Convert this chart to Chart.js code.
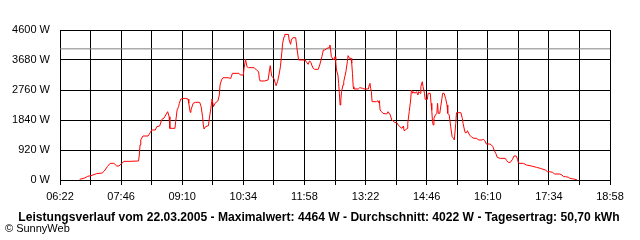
<!DOCTYPE html>
<html>
<head>
<meta charset="utf-8">
<script src="https://cdn.jsdelivr.net/npm/chart.js@4"></script>
<style>
    body { margin: 0; background: #fff; }
    #wrap { position: relative; width: 640px; height: 240px; font-family: "Liberation Sans", Arial, sans-serif; }
    #footTitle { position: absolute; left: 0; top: 210px; width: 638px; text-align: center; font-size: 12.1px; font-weight: bold; line-height: 14px; color: #000; white-space: nowrap; }
    #footCredit { position: absolute; left: 5px; top: 222px; font-size: 11px; line-height: 13px; color: #000; white-space: nowrap; }
</style>
</head>
<body>
<div id="wrap">
    <canvas id="powerChart" width="640" height="240"></canvas>
    <div id="footTitle">Leistungsverlauf vom 22.03.2005 - Maximalwert: 4464 W - Durchschnitt: 4022 W - Tagesertrag: 50,70 kWh</div>
    <div id="footCredit">© SunnyWeb</div>
</div>
<script>
// time of day in minutes since midnight, power in W
var timeMinutes = [409, 416, 420, 426, 432, 440, 443, 447, 451, 456, 460, 463, 467, 470, 477, 490, 491, 492, 493, 496,
    503, 506, 508, 513, 515, 519, 522, 525, 530, 532, 533, 540, 541, 543, 545, 546, 548, 554, 558, 559,
    561, 562, 565, 568, 574, 576, 578, 579, 580, 582, 586, 587, 590, 591, 593, 595, 599, 601, 602, 604,
    606, 613, 616, 617, 619, 628, 630, 634, 635, 637, 639, 641, 649, 652, 655, 656, 657, 663, 668, 670,
    671, 673, 676, 678, 679, 681, 683, 685, 687, 688, 690, 691, 696, 697, 699, 700, 702, 706, 708, 710,
    719, 721, 723, 725, 727, 728, 730, 732, 737, 739, 742, 744, 746, 749, 752, 753, 754, 755, 758, 760,
    761, 762, 764, 765, 766, 767, 768, 769, 771, 772, 775, 777, 778, 780, 782, 783, 784, 785, 786, 792,
    794, 798, 800, 806, 807, 808, 809, 810, 811, 817, 819, 820, 821, 822, 824, 826, 831, 833, 836, 838,
    840, 842, 845, 847, 849, 852, 854, 855, 857, 859, 860, 862, 864, 865, 867, 868, 870, 872, 874, 875,
    877, 878, 880, 881, 883, 884, 887, 888, 891, 892, 893, 894, 895, 896, 898, 900, 901, 902, 904, 907,
    908, 910, 912, 914, 915, 917, 919, 921, 923, 924, 926, 927, 933, 935, 936, 938, 939, 941, 942, 945,
    948, 951, 955, 957, 962, 964, 966, 968, 973, 975, 977, 979, 981, 983, 987, 994, 996, 998, 1001, 1004,
    1006, 1009, 1011, 1012, 1013, 1019, 1023, 1030, 1037, 1042, 1049, 1052, 1055, 1059, 1062, 1069, 1072, 1074, 1077, 1081,
    1083, 1088, 1093];
var powerW = [20, 61, 112, 143, 194, 215, 276, 409, 511, 511, 429, 429, 511, 572, 572, 583, 767, 1073, 1227, 1349,
    1349, 1451, 1533, 1533, 1635, 1656, 1860, 1901, 2095, 1942, 1585, 1585, 1789, 2150, 2249, 2351, 2484, 2505, 2484, 2351,
    2075, 2147, 2351, 2382, 2382, 2249, 1942, 1687, 1564, 1635, 1666, 1840, 2300, 2484, 2249, 2351, 2423, 2607, 2913, 3067,
    3137, 3137, 3118, 3137, 3271, 3271, 3220, 3220, 3425, 3701, 3475, 3445, 3445, 3373, 3322, 3118, 3036, 3036, 3067, 3373,
    3505, 3180, 3118, 2965, 2893, 3015, 3220, 3475, 3935, 4191, 4395, 4464, 4464, 4293, 4161, 4293, 4364, 4364, 3987, 3680,
    3680, 3608, 3547, 3650, 3608, 3527, 3425, 3394, 3394, 3527, 3782, 3987, 3987, 4038, 4059, 4140, 3987, 3782, 3680, 3782,
    3650, 3373, 3220, 2965, 2658, 2300, 2453, 2709, 2913, 3015, 3322, 3629, 3813, 3731, 3731, 3578, 3271, 2862, 2791, 2791,
    2831, 2811, 2791, 2791, 2913, 2965, 2811, 2709, 2402, 2402, 2433, 2371, 2433, 2147, 2095, 2044, 2024, 2095, 1993, 1840,
    1809, 1769, 1758, 1687, 1635, 1585, 1656, 1512, 1533, 1585, 1738, 2095, 2453, 2760, 2658, 2709, 2658, 2709, 2607, 2709,
    2658, 2862, 3015, 2862, 2658, 2474, 2474, 2658, 2658, 2351, 2147, 1789, 1687, 1891, 1993, 2044, 2351, 2044, 2044, 2505,
    2658, 2658, 2505, 2300, 2044, 1993, 1635, 1329, 1278, 1227, 1738, 2065, 2065, 1891, 1738, 1533, 1451, 1451, 1512, 1380,
    1309, 1278, 1278, 1227, 1227, 1247, 1206, 1104, 1104, 1073, 1022, 899, 818, 695, 664, 664, 593, 542, 542, 634,
    736, 736, 634, 532, 511, 511, 460, 429, 388, 358, 307, 255, 255, 235, 184, 184, 153, 102, 102, 82,
    51, 31, 0];
var averageW = 4022;
var startMinute = 382;   // 06:22
var endMinute = 1138;    // 18:58
var gridStepMinutes = 42;
var labelStepMinutes = 84;
var yMax = 4600;
var yStep = 920;

var powerPoints = [];
for (var i = 0; i < timeMinutes.length; i++) {
    powerPoints.push({ x: timeMinutes[i], y: powerW[i] });
}

function minutesToClock(m) {
    var h = Math.floor(m / 60);
    var mm = m % 60;
    return (h < 10 ? '0' : '') + h + ':' + (mm < 10 ? '0' : '') + mm;
}

var tickFont = { family: '"Liberation Sans", Arial, sans-serif', size: 11 };

var powerChart = new Chart("powerChart", {
    type: "line",
    data: {
        datasets: [{
            label: "Leistung",
            data: powerPoints,
            borderColor: "#ff0000",
            borderWidth: 1,
            pointRadius: 0,
            tension: 0,
            fill: false
        },
        {
            label: "Durchschnitt",
            data: [{ x: startMinute, y: averageW }, { x: endMinute, y: averageW }],
            borderColor: "#808080",
            borderWidth: 1,
            pointRadius: 0,
            fill: false
        }]
    },
    options: {
        responsive: false,
        animation: false,
        devicePixelRatio: 1,
        layout: {
            padding: { left: 0, right: 30, top: 30, bottom: 40 }
        },
        plugins: {
            legend: { display: false },
            tooltip: { enabled: false }
        },
        scales: {
            x: {
                type: "linear",
                min: startMinute,
                max: endMinute,
                afterFit: function (axis) { axis.height = 20; },
                grid: {
                    color: "#000",
                    lineWidth: 1,
                    tickLength: 5
                },
                border: { color: "#000" },
                ticks: {
                    stepSize: gridStepMinutes,
                    autoSkip: false,
                    maxRotation: 0,
                    padding: 5,
                    color: "#000",
                    font: tickFont,
                    callback: function (value) {
                        if ((value - startMinute) % labelStepMinutes != 0) {
                            return '';
                        }
                        return minutesToClock(value);
                    }
                }
            },
            y: {
                min: 0,
                max: yMax,
                afterFit: function (axis) { axis.width = 60; },
                grid: {
                    color: "#000",
                    lineWidth: 1,
                    drawTicks: false
                },
                border: { color: "#000" },
                ticks: {
                    stepSize: yStep,
                    padding: 10,
                    color: "#000",
                    font: tickFont,
                    callback: function (value) {
                        return value + ' W';
                    }
                }
            }
        }
    }
});
</script>
</body>
</html>
